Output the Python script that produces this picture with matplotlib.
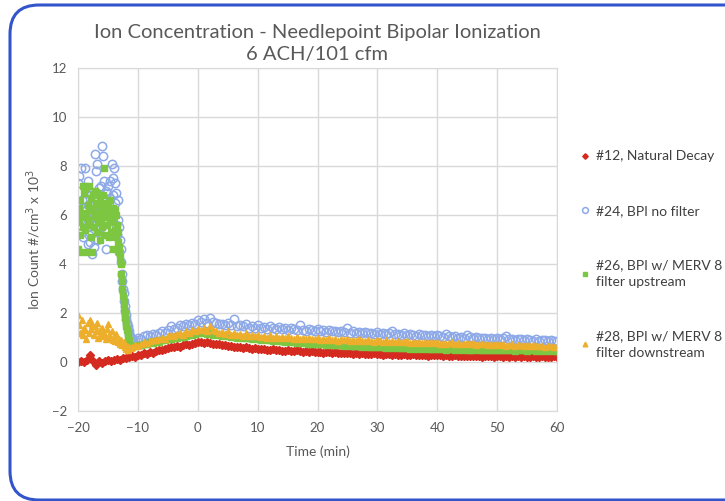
import numpy as np
import matplotlib
matplotlib.use('Agg')
import matplotlib.pyplot as plt
from matplotlib.patches import FancyBboxPatch

plt.rcParams['font.family'] = ['Lato', 'DejaVu Sans']

# ---- data ----
series_names = ['#12, Natural Decay', '#24, BPI no filter',
                '#26, BPI w/ MERV 8\nfilter upstream', '#28, BPI w/ MERV 8\nfilter downstream']

# red: -20 .. 60 every 0.5 min
t_red = np.arange(-20, 60.5, 0.5)
y_red = [0.02, 0.05, 0.0, 0.08, 0.3, 0.03, -0.12, 0.06, -0.05, 0.05, 0.1, 0.04, 0.08, 0.12, 0.1, 0.15, 0.18,
         0.2, 0.25, 0.22, 0.3, 0.28, 0.35, 0.33, 0.4, 0.38, 0.45, 0.5, 0.48, 0.55, 0.58,
         0.6, 0.62, 0.65, 0.63, 0.7, 0.72, 0.7, 0.75, 0.78, 0.8,
         0.82, 0.78, 0.8, 0.76, 0.74, 0.72, 0.75, 0.7, 0.68, 0.66,
         0.65, 0.62, 0.6, 0.63, 0.58, 0.6, 0.56, 0.55, 0.58, 0.54,
         0.52, 0.55, 0.5, 0.48, 0.52, 0.47, 0.5, 0.46, 0.45, 0.48,
         0.45, 0.43, 0.47, 0.44, 0.42, 0.45, 0.41, 0.43, 0.4, 0.42,
         0.4, 0.38, 0.42, 0.39, 0.37, 0.4, 0.36, 0.38, 0.35, 0.37,
         0.36, 0.34, 0.37, 0.33, 0.35, 0.32, 0.34, 0.31, 0.35, 0.33,
         0.32, 0.3, 0.33, 0.31, 0.29, 0.32, 0.3, 0.28, 0.31, 0.3,
         0.29, 0.31, 0.28, 0.27, 0.3, 0.28, 0.26, 0.29, 0.27, 0.28,
         0.27, 0.25, 0.28, 0.26, 0.24, 0.27, 0.25, 0.26, 0.23, 0.26,
         0.25, 0.23, 0.26, 0.24, 0.22, 0.25, 0.23, 0.24, 0.22, 0.25,
         0.23, 0.21, 0.24, 0.22, 0.25, 0.21, 0.23, 0.2, 0.24, 0.22,
         0.21, 0.23, 0.2, 0.22, 0.24, 0.2, 0.22, 0.21, 0.23, 0.22]

# start-up part (before the drop) every 0.1 min, -20 .. -11.1
t_early = np.round(np.arange(-20, -11.05, 0.1), 1)
y_blue_early = [7.3, 6.1, 7.6, 5.8, 6.4, 7.9, 5.3, 6.6, 6.0, 5.1,
                6.3, 7.9, 5.7, 6.2, 6.9, 5.5, 4.8, 7.4, 6.0, 5.2,
                4.9, 6.5, 6.8, 5.6, 4.4, 6.1, 4.7, 5.9, 8.5, 6.4,
                7.8, 5.0, 8.1, 6.7, 5.4, 7.1, 6.0, 6.3, 5.5, 7.2,
                8.8, 6.2, 8.4, 5.8, 7.4, 6.6, 4.6, 7.0, 6.9, 5.3,
                7.2, 6.4, 5.9, 7.4, 6.7, 6.1, 8.1, 5.6, 7.5, 6.8,
                7.9, 6.5, 7.3, 5.6, 6.9, 5.2, 6.6, 5.8, 4.5, 5.5,
                5.0, 4.6, 4.1, 3.6, 3.3, 3.0, 2.8, 2.5, 2.3, 2.1,
                1.9, 1.75, 1.6, 1.45, 1.35, 1.25, 1.15, 1.05, 1.0, 0.95]
y_green_early = [4.6, 5.7, 6.3, 5.2, 6.6, 4.5, 5.9, 6.1, 7.2, 5.5,
                 6.9, 7.2, 5.4, 6.0, 7.1, 4.5, 6.4, 5.8, 7.2, 6.2,
                 5.6, 6.7, 5.1, 6.3, 4.5, 6.8, 5.5, 6.0, 7.0, 5.9,
                 6.5, 5.3, 6.9, 6.1, 5.7, 6.4, 5.0, 6.6, 5.8, 6.2,
                 5.5, 6.8, 6.0, 7.9, 5.2, 6.5, 5.9, 6.3, 5.6, 6.1,
                 6.4, 5.1, 6.2, 5.7, 6.6, 5.3, 6.0, 5.8, 6.3, 4.6,
                 5.9, 6.2, 5.4, 6.0, 5.1, 5.6, 4.9, 5.3, 4.7, 4.5,
                 4.3, 4.0, 3.6, 3.3, 3.0, 2.7, 2.5, 2.2, 2.0, 1.8,
                 1.6, 1.45, 1.3, 1.15, 1.0, 0.9, 0.8, 0.7, 0.65, 0.62]
# orange start-up every 0.2 min, -20 .. -11.2
t_orange_early = np.round(np.arange(-20, -11.1, 0.2), 1)
y_orange_early = [1.9, 1.5, 1.2, 1.7, 1.1, 1.4, 1.3, 0.95, 1.6, 1.2,
                  1.7, 1.35, 1.5, 1.1, 1.45, 1.25, 1.6, 1.0, 1.3, 1.15,
                  1.4, 1.05, 1.2, 0.95, 1.35, 1.55, 1.1, 1.0, 1.25, 0.9,
                  1.05, 0.85, 1.15, 0.8, 0.95, 0.75, 0.9, 0.7, 0.8, 0.6,
                  0.55, 0.65, 0.5, 0.6, 0.58]

# after the drop: -11 .. 60 every 0.5 min
t_main = np.arange(-11, 60.5, 0.5)
y_blue = [0.95, 0.9, 1.0, 0.95, 1.05, 1.1, 1.05, 1.15, 1.1, 1.2,
          1.25, 1.2, 1.3, 1.45, 1.35, 1.4, 1.5, 1.45, 1.55, 1.5,
          1.6, 1.55, 1.7, 1.65, 1.75, 1.6, 1.8, 1.65, 1.6, 1.55,
          1.55, 1.5, 1.6, 1.5, 1.75, 1.45, 1.5, 1.45, 1.55, 1.4,
          1.45, 1.4, 1.5, 1.38, 1.42, 1.35, 1.45, 1.4, 1.35, 1.42,
          1.35, 1.38, 1.3, 1.4, 1.33, 1.3, 1.5, 1.32, 1.28, 1.35,
          1.3, 1.27, 1.33, 1.25, 1.3, 1.24, 1.32, 1.25, 1.28, 1.22,
          1.25, 1.22, 1.4, 1.2, 1.26, 1.18, 1.24, 1.2, 1.22, 1.17,
          1.2, 1.16, 1.22, 1.15, 1.2, 1.13, 1.18, 1.25, 1.14, 1.16,
          1.12, 1.18, 1.1, 1.15, 1.12, 1.08, 1.14, 1.1, 1.12, 1.06,
          1.1, 1.05, 1.12, 1.08, 1.04, 1.15, 1.06, 1.02, 1.08, 1.0,
          1.04, 1.0, 1.1, 1.02, 0.98, 1.04, 0.96, 1.0, 0.98, 0.95,
          1.0, 0.94, 0.98, 0.93, 0.96, 1.05, 0.92, 0.95, 0.9, 0.94,
          0.92, 0.88, 0.95, 0.9, 0.87, 0.92, 0.86, 0.9, 0.88, 0.85,
          0.88, 0.84, 0.86]
y_green = [0.6, 0.65, 0.7, 0.68, 0.75, 0.72, 0.8, 0.78, 0.85, 0.82,
           0.9, 0.88, 0.95, 0.92, 1.0, 0.98, 1.05, 1.02, 1.08, 1.1,
           1.12, 1.15, 1.2, 1.18, 1.22, 1.15, 1.2, 1.12, 1.15, 1.1,
           1.08, 1.1, 1.05, 1.02, 1.06, 1.0, 1.02, 0.98, 1.0, 0.96,
           0.95, 0.98, 0.93, 0.9, 0.94, 0.88, 0.9, 0.87, 0.89, 0.85,
           0.86, 0.83, 0.85, 0.8, 0.82, 0.79, 0.8, 0.77, 0.78, 0.75,
           0.76, 0.74, 0.75, 0.72, 0.73, 0.7, 0.72, 0.69, 0.7, 0.68,
           0.69, 0.67, 0.68, 0.66, 0.67, 0.64, 0.66, 0.63, 0.65, 0.62,
           0.63, 0.61, 0.62, 0.6, 0.61, 0.59, 0.6, 0.58, 0.6, 0.57,
           0.58, 0.56, 0.58, 0.55, 0.57, 0.55, 0.56, 0.54, 0.56, 0.53,
           0.55, 0.53, 0.54, 0.52, 0.54, 0.51, 0.53, 0.52, 0.5, 0.53,
           0.51, 0.52, 0.5, 0.51, 0.49, 0.52, 0.5, 0.48, 0.5, 0.49,
           0.5, 0.48, 0.49, 0.47, 0.5, 0.48, 0.47, 0.49, 0.46, 0.48,
           0.47, 0.49, 0.46, 0.48, 0.47, 0.45, 0.48, 0.46, 0.47, 0.46,
           0.47, 0.45, 0.46]
y_orange = [0.6, 0.7, 0.65, 0.75, 0.8, 0.78, 0.85, 0.9, 0.88, 0.95,
            1.0, 0.95, 1.05, 1.1, 1.05, 1.15, 1.2, 1.1, 1.25, 1.2,
            1.3, 1.25, 1.35, 1.3, 1.4, 1.28, 1.45, 1.3, 1.25, 1.2,
            1.22, 1.15, 1.25, 1.12, 1.18, 1.1, 1.15, 1.08, 1.2, 1.05,
            1.1, 1.05, 1.12, 1.02, 1.08, 1.0, 1.1, 0.98, 1.05, 1.0,
            1.02, 0.96, 1.05, 0.98, 0.95, 1.03, 0.94, 1.0, 0.93, 0.98,
            0.95, 0.92, 1.0, 0.9, 0.95, 0.88, 0.96, 0.9, 0.94, 0.87,
            0.92, 0.88, 0.95, 0.86, 0.9, 0.85, 0.93, 0.87, 0.84, 0.9,
            0.86, 0.83, 0.9, 0.84, 0.82, 0.88, 0.81, 0.85, 0.8, 0.86,
            0.82, 0.8, 0.85, 0.78, 0.83, 0.79, 0.82, 0.77, 0.8, 0.78,
            0.8, 0.76, 0.82, 0.75, 0.79, 0.74, 0.78, 0.8, 0.73, 0.77,
            0.75, 0.72, 0.78, 0.73, 0.76, 0.7, 0.75, 0.72, 0.74, 0.7,
            0.73, 0.69, 0.72, 0.68, 0.74, 0.67, 0.7, 0.72, 0.66, 0.69,
            0.7, 0.66, 0.69, 0.65, 0.68, 0.64, 0.67, 0.65, 0.63, 0.66,
            0.64, 0.62, 0.63]

x_ticks = [-20, -10, 0, 10, 20, 30, 40, 50, 60]
y_ticks = [-2, 0, 2, 4, 6, 8, 10, 12]

RED = '#D42A1F'
BLUE = '#8EA9E8'
GREEN = '#7DC642'
ORANGE = '#EDAE2C'
TXT = '#595959'

fig = plt.figure(figsize=(7.25, 5.01), dpi=100)
ax = fig.add_axes([78 / 725, 1 - 411 / 501, (557 - 78) / 725, (411 - 68) / 501])

ax.plot(t_red, y_red, 'D', color=RED, ms=4.0, mec=RED, label=series_names[0])
ax.plot(np.concatenate([t_early, t_main]), y_blue_early + y_blue, 'o', ms=6.0,
        mfc='none', mec=BLUE, mew=1.1, label=series_names[1])
ax.plot(np.concatenate([t_early, t_main]), y_green_early + y_green, 's', ms=5.0,
        color=GREEN, label=series_names[2])
ax.plot(np.concatenate([t_orange_early, t_main]), y_orange_early + y_orange, '^', ms=4.8,
        color=ORANGE, label=series_names[3])

ax.set_xlim(-20, 60)
ax.set_ylim(-2, 12)
ax.set_xticks(x_ticks)
ax.set_yticks(y_ticks)
ax.grid(True, color='#D9D9D9', lw=1)
ax.set_axisbelow(True)
for s in ax.spines.values():
    s.set_color('#D9D9D9')
ax.tick_params(length=0, labelsize=9.5, colors=TXT, pad=8)

ax.set_xlabel('Time (min)', fontsize=10, color=TXT, labelpad=8)
ax.set_ylabel('Ion Count #/cm$^3$ x 10$^3$', fontsize=10, color=TXT, labelpad=6)
ax.set_title('Ion Concentration - Needlepoint Bipolar Ionization\n6 ACH/101 cfm',
             fontsize=14.5, color=TXT, pad=6, linespacing=1.3)

leg = ax.legend(loc='upper left', bbox_to_anchor=(568 / 725, 1 - 138 / 501),
                bbox_transform=fig.transFigure, frameon=False, fontsize=10,
                labelspacing=3.05, handlelength=0.6, handletextpad=0.5,
                markerscale=0.7)
for txt in leg.get_texts():
    txt.set_color('#404040')
    txt.set_linespacing(1.45)

# rounded blue frame round the whole picture
frame = FancyBboxPatch((10 / 725, 1 / 501), 1.2, 1 - 6 / 501,
                       boxstyle='round,pad=0,rounding_size=0.04',
                       transform=fig.transFigure, fill=False,
                       ec='#3355CC', lw=2.2, clip_on=False, mutation_aspect=725 / 501)
fig.patches.append(frame)

fig.savefig('out.png', dpi=100)
